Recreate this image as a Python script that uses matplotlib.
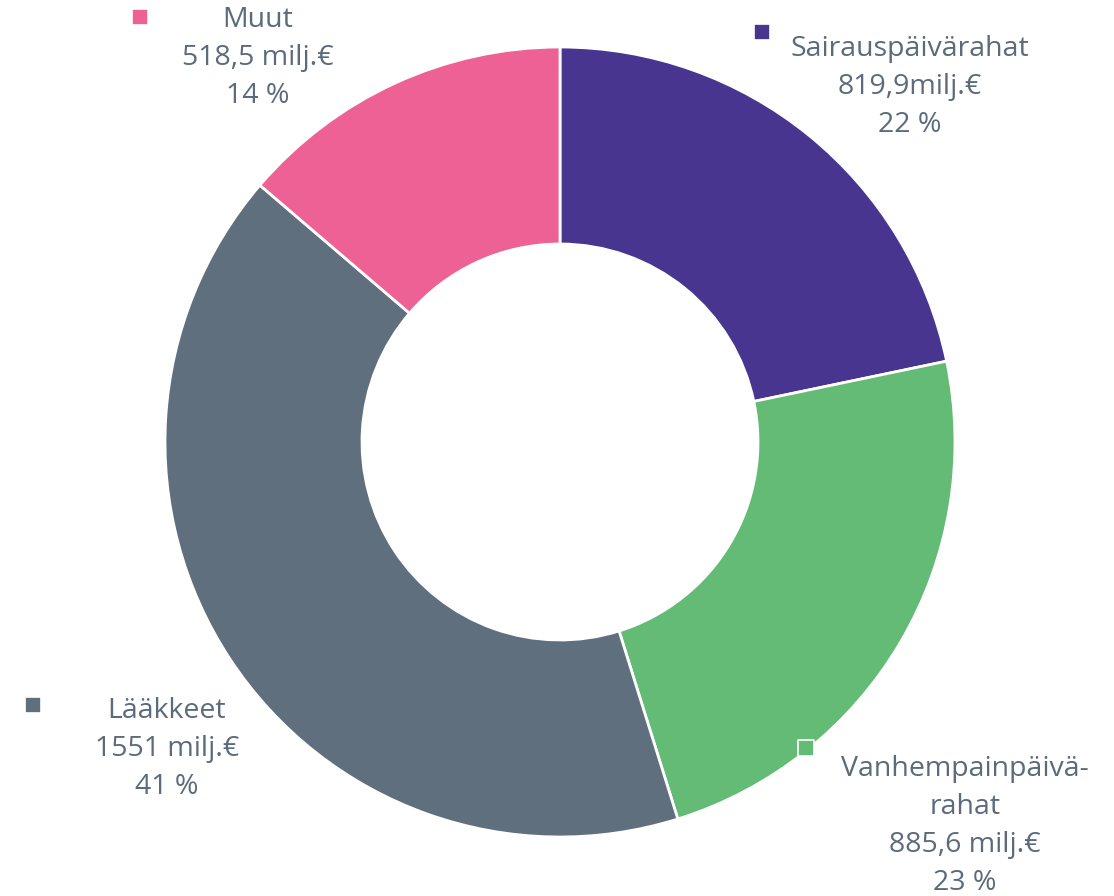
import matplotlib.pyplot as plt

categories = ["Sairauspäivärahat", "Vanhempainpäivä-\nrahat", "Lääkkeet", "Muut"]
values = [819.9, 885.6, 1551, 518.5]
value_labels = ["819,9milj.€", "885,6 milj.€", "1551 milj.€", "518,5 milj.€"]
percents = ["22 %", "23 %", "41 %", "14 %"]
colors = ["#48358F", "#64BB75", "#5F6F7E", "#EE6195"]

W, H = 1114, 896
fig = plt.figure(figsize=(W / 100, H / 100), dpi=100)
ax = fig.add_axes([0, 0, 1, 1])

ax.pie(values, colors=colors, startangle=90, counterclock=False,
       center=(560, H - 442), radius=395,
       wedgeprops=dict(width=197, edgecolor="white", linewidth=2))

# pie() resets the limits, so set them afterwards (pixel-like coordinates)
ax.set_xlim(0, W)
ax.set_ylim(0, H)
ax.set_aspect("equal")
ax.axis("off")

# label blocks: (text centre x, top y in pixels from top), marker position
label_pos = [(910, 35), (965, 755), (167, 697), (258, 6)]
marker_pos = [(762, 32), (806, 748), (33, 705), (140, 17)]
text_color = "#5B6B7B"

for i, cat in enumerate(categories):
    text = cat + "\n" + value_labels[i] + "\n" + percents[i]
    x, y = label_pos[i]
    ax.text(x, H - y, text, ha="center", va="top", fontsize=20.5,
            color=text_color, family="Open Sans", linespacing=1.48)
    mx, my = marker_pos[i]
    ax.scatter([mx], [H - my], marker="s", s=120, color=colors[i],
               edgecolor="white", linewidth=1.2, zorder=5)

fig.savefig("out.png", dpi=100)
